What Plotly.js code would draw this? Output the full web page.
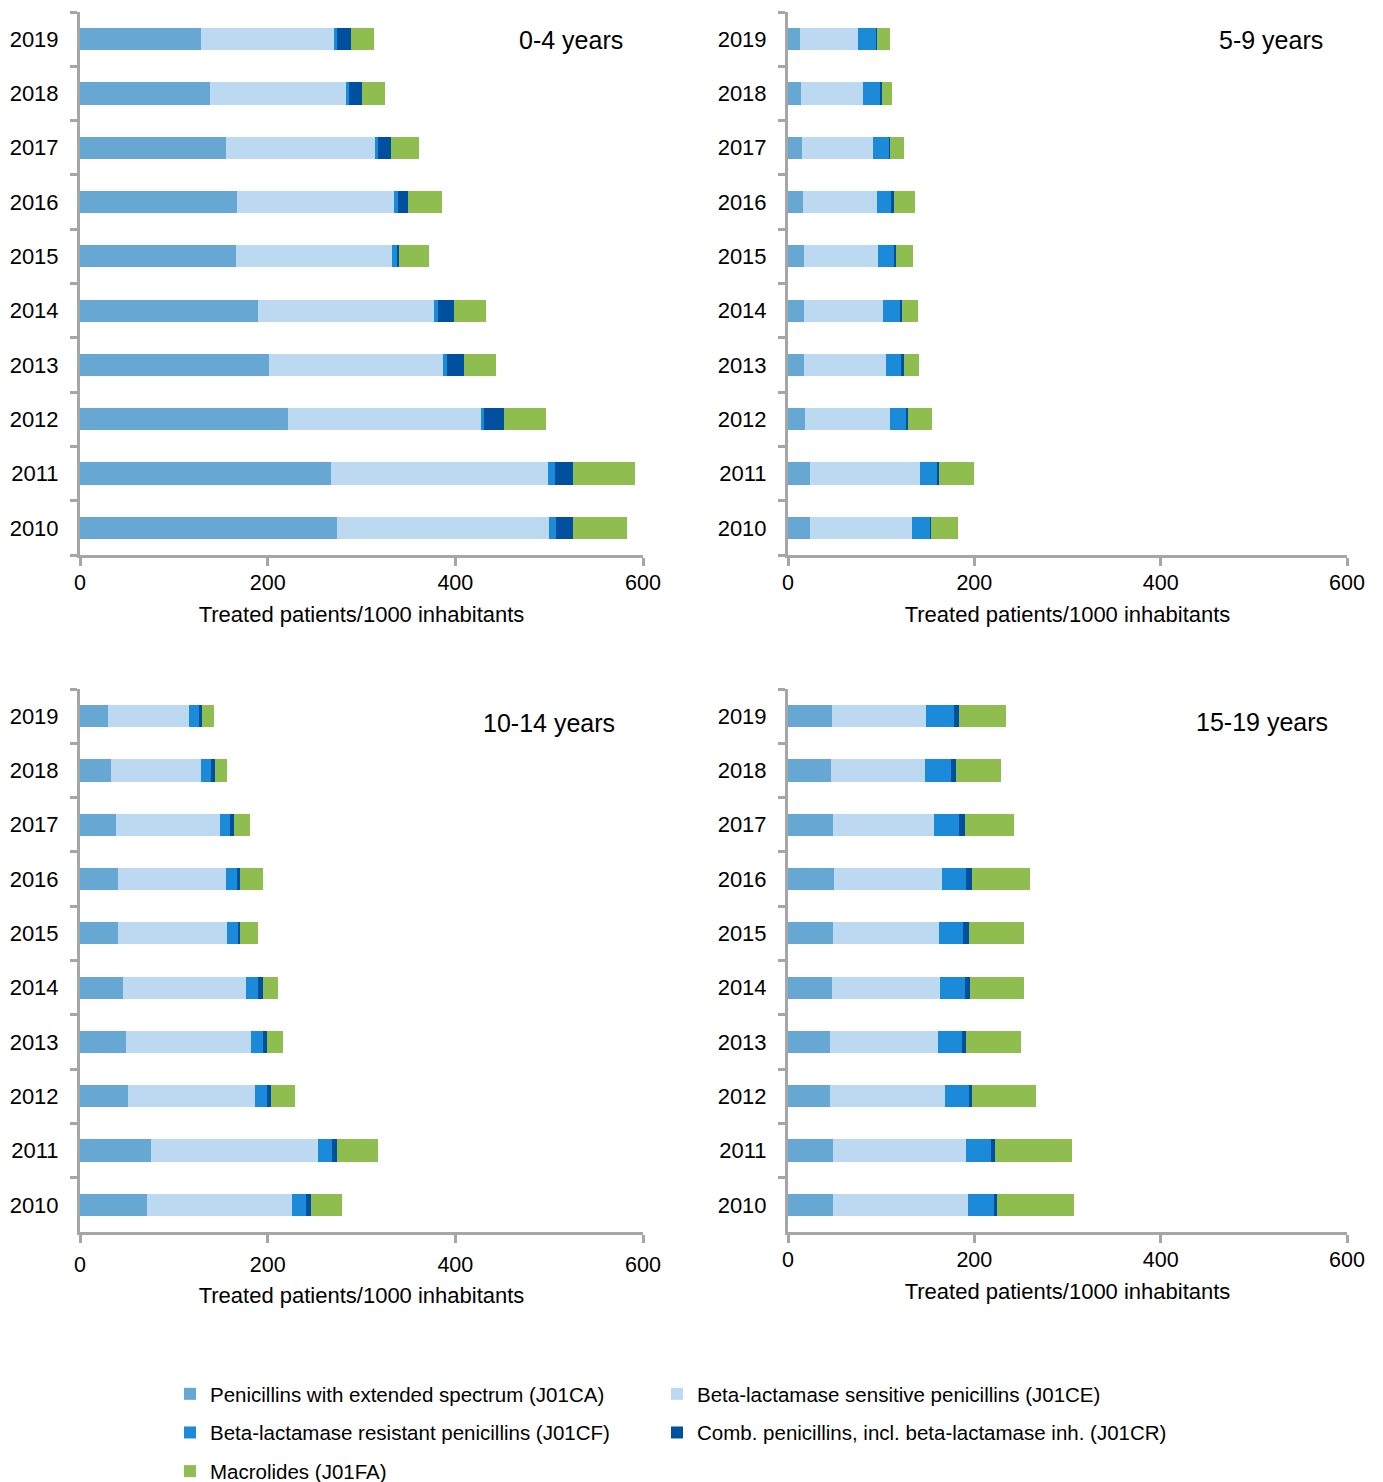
<!DOCTYPE html>
<html>
<head>
<meta charset="utf-8">
<script src="https://cdn.plot.ly/plotly-3.0.1.min.js"></script>
<style>html,body{margin:0;padding:0;background:#fff;}#chart{width:1383px;height:1482px;}</style>
</head>
<body>
<div id="chart"></div>
<script>
const years = ['2010','2011','2012','2013','2014','2015','2016','2017','2018','2019'];
const seriesNames = [
  'Penicillins with extended spectrum (J01CA)',
  'Beta-lactamase sensitive penicillins (J01CE)',
  'Beta-lactamase resistant penicillins (J01CF)',
  'Comb. penicillins, incl. beta-lactamase inh. (J01CR)',
  'Macrolides (J01FA)'
];
const panelTitles = ['0-4 years', '5-9 years', '10-14 years', '15-19 years'];
const xTicks = [0, 200, 400, 600];
const axisTitle = 'Treated patients/1000 inhabitants';

// 0-4 years (2010..2019)
const age0_4_CA = [274, 267, 222, 201, 190, 166, 167, 156, 139, 129];
const age0_4_CE = [226, 232, 205, 186, 187, 167, 168, 158, 144, 142];
const age0_4_CF = [7, 7, 4, 4, 5, 5, 4, 4, 4, 3];
const age0_4_CR = [18, 19, 21, 18, 17, 2, 11, 13, 14, 15];
const age0_4_FA = [58, 66, 45, 34, 34, 32, 36, 30, 24, 24];

// 5-9 years
const age5_9_CA = [24, 24, 18, 17, 17, 17, 16, 15, 14, 13];
const age5_9_CE = [109, 118, 92, 88, 85, 80, 79, 76, 67, 62];
const age5_9_CF = [19, 18, 17, 16, 18, 17, 16, 17, 18, 19];
const age5_9_CR = [1.5, 2, 2, 3, 2, 2, 3, 2, 2, 2];
const age5_9_FA = [29, 38, 26, 17, 18, 18, 22, 14, 11, 13];

// 10-14 years
const age10_14_CA = [71, 76, 51, 49, 46, 41, 41, 38, 33, 30];
const age10_14_CE = [155, 178, 135, 133, 131, 116, 115, 111, 96, 86];
const age10_14_CF = [15, 15, 13, 13, 13, 11, 11, 11, 11, 11];
const age10_14_CR = [5, 4.5, 5, 4, 4.5, 2.5, 4, 4.5, 3.5, 3.5];
const age10_14_FA = [33, 44, 25, 17, 17, 19, 24, 17, 13, 12];

// 15-19 years
const age15_19_CA = [48, 48, 45, 45, 47, 48, 49, 48, 46, 47];
const age15_19_CE = [145, 143, 123, 116, 116, 114, 116, 109, 101, 101];
const age15_19_CF = [28, 27, 26, 26, 27, 26, 26, 27, 28, 30];
const age15_19_CR = [3.5, 4, 4, 4, 5, 6, 6, 6, 5, 5];
const age15_19_FA = [83, 83, 68, 59, 58, 59, 63, 53, 49, 51];

const panels = [
  [age0_4_CA, age0_4_CE, age0_4_CF, age0_4_CR, age0_4_FA],
  [age5_9_CA, age5_9_CE, age5_9_CF, age5_9_CR, age5_9_FA],
  [age10_14_CA, age10_14_CE, age10_14_CF, age10_14_CR, age10_14_FA],
  [age15_19_CA, age15_19_CE, age15_19_CF, age15_19_CR, age15_19_FA]
];

const colors = ['#67A7D4', '#BDD9F1', '#1A8AD9', '#0050A0', '#8FBD50'];
const legendOf = ['legend', 'legend2', 'legend', 'legend2', 'legend'];

const W = 1383, H = 1482;
// pixel boxes of plot areas [left, right, top, bottom]
const boxes = [
  [80, 643, 12, 555],
  [788, 1347, 12, 555],
  [80, 643, 689, 1232],
  [788, 1347, 689, 1232]
];
const tickStandoff = [-2, -2, 3, -2];
const titleStandoff = [13, 13, 12, 13];

const FONT = 'Liberation Sans, Arial, sans-serif';
const gray = '#A6A6A6';

const traces = [];
panels.forEach((p, pi) => {
  const ax = pi === 0 ? '' : String(pi + 1);
  p.forEach((vals, si) => {
    traces.push({
      type: 'bar',
      orientation: 'h',
      x: vals,
      y: years,
      name: seriesNames[si],
      marker: {color: colors[si], line: {width: 0}},
      xaxis: 'x' + ax,
      yaxis: 'y' + ax,
      showlegend: pi === 0,
      legend: legendOf[si],
      legendgroup: 'g' + si,
      hoverinfo: 'x+name'
    });
  });
});

const legendFont = {family: FONT, size: 20.5, color: '#000'};
const legendTop = 1 - 1374 / H;
const layout = {
  width: W, height: H,
  margin: {l: 0, r: 0, t: 0, b: 0, autoexpand: false},
  paper_bgcolor: '#fff', plot_bgcolor: '#fff',
  barmode: 'stack',
  bargap: 0.59,
  font: {family: FONT, size: 22, color: '#000'},
  annotations: [],
  legend: {
    x: 170 / W, y: legendTop, xanchor: 'left', yanchor: 'top',
    orientation: 'v', tracegroupgap: 9,
    font: legendFont,
    bgcolor: 'rgba(0,0,0,0)'
  },
  legend2: {
    x: 657 / W, y: legendTop, xanchor: 'left', yanchor: 'top',
    orientation: 'v', tracegroupgap: 9,
    font: legendFont,
    bgcolor: 'rgba(0,0,0,0)'
  }
};

const titlePos = [
  [625, 40], [1325, 40], [617, 723], [1330, 722]
];

boxes.forEach((b, i) => {
  const ax = i === 0 ? '' : String(i + 1);
  layout['xaxis' + ax] = {
    domain: [b[0] / W, b[1] / W],
    anchor: 'y' + ax,
    range: [0, 600],
    tickvals: xTicks,
    ticktext: xTicks.map(String),
    ticks: 'outside', ticklen: 8, tickwidth: 3, tickcolor: gray,
    showline: true, linecolor: gray, linewidth: 3,
    showgrid: false, zeroline: false,
    tickfont: {family: FONT, size: 21.5, color: '#000'},
    ticklabelstandoff: tickStandoff[i],
    title: {text: axisTitle, font: {family: FONT, size: 22, color: '#000'}, standoff: titleStandoff[i]},
    automargin: false,
    fixedrange: true
  };
  layout['yaxis' + ax] = {
    domain: [1 - b[3] / H, 1 - b[2] / H],
    anchor: 'x' + ax,
    type: 'category',
    categoryorder: 'array', categoryarray: years,
    range: [-0.5, 9.5],
    tickson: 'boundaries',
    ticks: 'outside', ticklen: 7, tickwidth: 3, tickcolor: gray,
    showline: true, linecolor: gray, linewidth: 3,
    showgrid: false, zeroline: false,
    tickfont: {family: FONT, size: 22, color: '#000'},
    ticklabelstandoff: 14,
    automargin: false,
    fixedrange: true
  };
  layout.annotations.push({
    text: panelTitles[i],
    xref: 'paper', yref: 'paper',
    x: titlePos[i][0] / W, y: 1 - titlePos[i][1] / H,
    xanchor: 'right', yanchor: 'middle',
    showarrow: false,
    font: {family: FONT, size: 25, color: '#000'}
  });
});

Plotly.newPlot('chart', traces, layout, {staticPlot: true, displayModeBar: false});
</script>
</body>
</html>
